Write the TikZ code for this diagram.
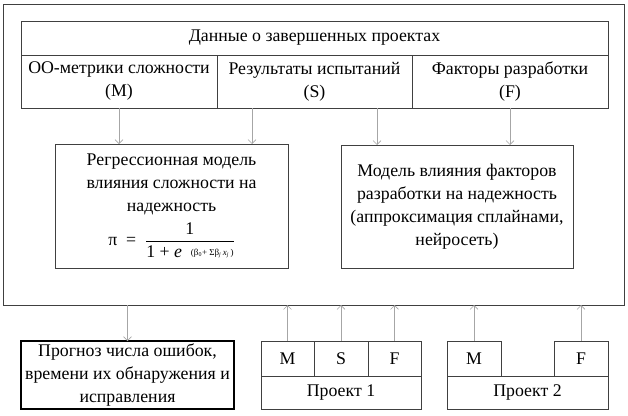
\documentclass[tikz,border=0pt]{standalone}
\usepackage{amsmath}
\usepackage{fontspec}
\setmainfont{Liberation Serif}
\usepackage{tikz}
\usetikzlibrary{positioning, arrows.meta, calc}

\begin{document}
\begin{tikzpicture}[
    x=1pt, y=-1pt,
    box/.style={draw=black!75, line width=0.9pt, rectangle, align=center, inner sep=0pt, outer sep=0pt, font=\fontsize{17.8}{23}\selectfont},
    cell/.style={box, minimum width=53pt, minimum height=35pt},
    arrow/.style={-{Straight Barb[length=4pt, width=8pt]}, draw=black!35, line width=0.6pt},
]
\useasboundingbox (0,0) rectangle (628,415);

% Outer frame
\node[box, minimum width=621pt, minimum height=301pt] (frame) at (313.5,154.5) {};

% Completed projects table
\node[box, minimum width=587pt, minimum height=34pt] (head) at (314.5,38) {Данные о завершенных проектах};
\node[box, minimum width=196pt, minimum height=53pt, anchor=north west] (m) at (head.south west) {ОО-метрики сложности\\(M)};
\node[box, minimum width=195pt, minimum height=53pt, right=0pt of m] (s) {Результаты испытаний\\(S)};
\node[box, minimum width=196pt, minimum height=53pt, right=0pt of s] (f) {Факторы разработки\\(F)};

% Models
\node[box, minimum width=233pt, minimum height=124pt] (reg) at (171.5,206) {Регрессионная модель\\влияния сложности на\\надежность\\[6pt]
    $\mbox{π\ \ =\ \ }\dfrac{\mbox{1}}{\mbox{1\ +\ \textit{e}\ \ \raisebox{2.5pt}{\fontsize{9}{10}\selectfont(β\textsubscript{0}+ Σβ\textsubscript{\textit{j}}\,\textit{x}\textsubscript{\textit{j}}\,)}}}$};
\node[box, minimum width=232pt, minimum height=123pt] (nn) at (457,206.5) {Модель влияния факторов\\разработки на надежность\\(аппроксимация сплайнами,\\нейросеть)};

% Forecast
\node[box, draw=black, line width=1.8pt, minimum width=213pt, minimum height=68pt] (prog) at (127.5,375) {Прогноз числа ошибок,\\времени их обнаружения и\\исправления};

% Project 1
\node[cell, anchor=north west] (p1m) at (261,341) {M};
\node[cell, minimum width=54pt, right=0pt of p1m] (p1s) {S};
\node[cell, right=0pt of p1s] (p1f) {F};
\node[box, minimum width=160pt, minimum height=33pt, anchor=north west] (p1) at (p1m.south west) {Проект 1};

% Project 2
\node[cell, minimum width=54pt, anchor=north west] (p2m) at (447,341) {M};
\node[cell, minimum width=54pt, anchor=north east] (p2f) at (608,341) {F};
\node[box, minimum width=161pt, minimum height=33pt, anchor=north west] (p2) at (p2m.south west) {Проект 2};

% Connections
\draw[arrow] (m.south) -- (m.south |- reg.north);
\draw[arrow] ([xshift=-62.5pt]s.south) -- ([xshift=-62.5pt]s.south |- reg.north);
\draw[arrow] ([xshift=62.5pt]s.south) -- ([xshift=62.5pt]s.south |- nn.north);
\draw[arrow] (f.south) -- (f.south |- nn.north);

\draw[arrow] (prog.north |- frame.south) -- (prog.north);

\draw[arrow] (p1m.north) -- (p1m.north |- frame.south);
\draw[arrow] (p1s.north) -- (p1s.north |- frame.south);
\draw[arrow] (p1f.north) -- (p1f.north |- frame.south);
\draw[arrow] (p2m.north) -- (p2m.north |- frame.south);
\draw[arrow] (p2f.north) -- (p2f.north |- frame.south);

\end{tikzpicture}
\end{document}
